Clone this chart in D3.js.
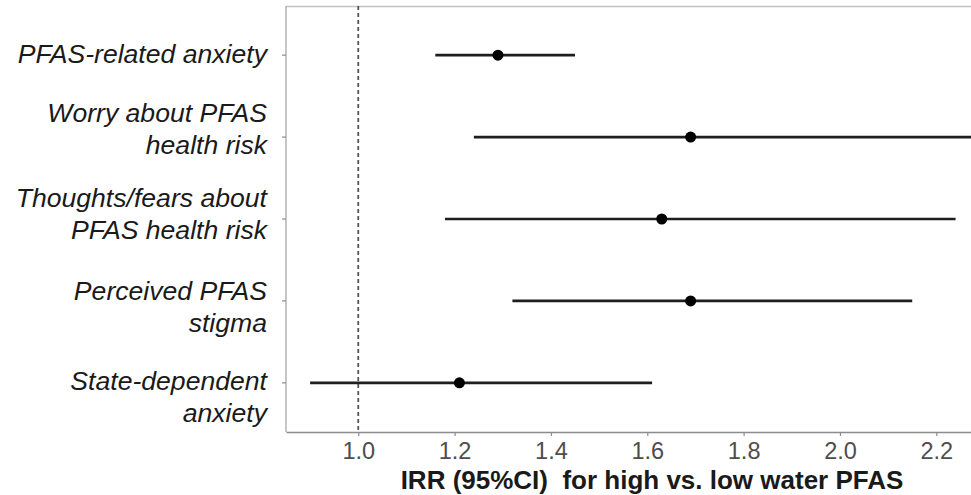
<!DOCTYPE html>
<html>
<head>
<meta charset="utf-8">
<script src="https://cdn.jsdelivr.net/npm/d3@7"></script>
<style>
  html, body { margin: 0; padding: 0; background: #fff; }
  svg { display: block; }
</style>
</head>
<body>
<script>
// outcomes, top to bottom
const outcomes = ["PFAS-related anxiety",
                  "Worry about PFAS health risk",
                  "Thoughts/fears about PFAS health risk",
                  "Perceived PFAS stigma",
                  "State-dependent anxiety"];
const labelLines = [["PFAS-related anxiety"],
                    ["Worry about PFAS", "health risk"],
                    ["Thoughts/fears about", "PFAS health risk"],
                    ["Perceived PFAS", "stigma"],
                    ["State-dependent", "anxiety"]];
const irr   = [1.29, 1.69, 1.63, 1.69, 1.21];
const lower = [1.16, 1.24, 1.18, 1.32, 0.90];
const upper = [1.45, 2.30, 2.24, 2.15, 1.61];
const xTicks = [1.0, 1.2, 1.4, 1.6, 1.8, 2.0, 2.2];
const refValue = 1.0;
const xTitle = "IRR (95%CI)\u00a0 for high vs. low water PFAS";

const width = 971, height = 495;
const margin = {top: 6, right: 0, bottom: 63, left: 286};

// first-line baseline offset of each label from its tick
const labelDy = [8, -15, -12, -1, 7],
      lineGap = 32;

const svg = d3.select("body").append("svg")
  .attr("width", width)
  .attr("height", height);

const x = d3.scaleLinear()
  .domain([0.85, 2.272])
  .range([margin.left, width - margin.right]);

const y = d3.scalePoint()
  .domain(outcomes)
  .range([margin.top, height - margin.bottom])
  .padding(0.6);

const bottom = height - margin.bottom;

// panel border (top + left)
svg.append("line")
  .attr("x1", margin.left).attr("x2", width)
  .attr("y1", margin.top + 0.5).attr("y2", margin.top + 0.5)
  .attr("stroke", "#c4c4c4").attr("stroke-width", 1.5);

svg.append("line")
  .attr("x1", margin.left).attr("x2", margin.left)
  .attr("y1", margin.top).attr("y2", bottom)
  .attr("stroke", "#a8a8a8").attr("stroke-width", 1.3);

// x axis
const xAxis = g => g
  .attr("transform", `translate(0,${bottom})`)
  .call(d3.axisBottom(x).tickValues(xTicks).tickFormat(d3.format(".1f"))
          .tickSizeInner(4).tickSizeOuter(0).tickPadding(6))
  .call(g => g.select(".domain").attr("stroke", "#8c8c8c").attr("stroke-width", 1.6))
  .call(g => g.selectAll(".tick line").attr("stroke", "#8c8c8c").attr("stroke-width", 1.2))
  .call(g => g.selectAll(".tick text")
              .attr("fill", "#4d4d4d")
              .style("font", "23.5px 'Liberation Sans', Arial, sans-serif"));

svg.append("g").call(xAxis);

// y ticks only (labels drawn by hand for line breaks)
svg.append("g")
  .selectAll("line")
  .data(outcomes)
  .join("line")
    .attr("x1", margin.left - 4).attr("x2", margin.left)
    .attr("y1", d => y(d)).attr("y2", d => y(d))
    .attr("stroke", "#8c8c8c").attr("stroke-width", 1.2);

svg.append("g")
    .style("font", "italic 26.6px 'Liberation Sans', Arial, sans-serif")
    .attr("fill", "#1a1a1a")
    .attr("text-anchor", "end")
  .selectAll("text")
  .data(outcomes)
  .join("text")
    .attr("x", 267)
    .attr("y", (d, i) => y(d) + labelDy[i])
    .each(function(d, i) {
      d3.select(this).selectAll("tspan")
        .data(labelLines[i])
        .join("tspan")
          .attr("x", 267)
          .attr("dy", (t, j) => j == 0 ? 0 : lineGap)
          .text(t => t);
    });

// reference line
svg.append("line")
  .attr("x1", x(refValue)).attr("x2", x(refValue))
  .attr("y1", margin.top).attr("y2", bottom)
  .attr("stroke", "#555").attr("stroke-width", 1.8)
  .attr("stroke-dasharray", "4,3");

// CIs and estimates
const rows = svg.append("g")
  .selectAll("g")
  .data(outcomes)
  .join("g")
    .attr("transform", d => `translate(0,${y(d)})`);

rows.append("line")
  .attr("x1", (d, i) => x(lower[i]))
  .attr("x2", (d, i) => Math.min(x(upper[i]), width))
  .attr("stroke", "#1e1e1e")
  .attr("stroke-width", 2.6);

rows.append("circle")
  .attr("cx", (d, i) => x(irr[i]))
  .attr("r", 5.5)
  .attr("fill", "#000");

// x title
svg.append("text")
  .attr("x", 652)
  .attr("y", 489)
  .attr("text-anchor", "middle")
  .attr("fill", "#1a1a1a")
  .style("font", "bold 26px 'Liberation Sans', Arial, sans-serif")
  .text(xTitle);
</script>
</body>
</html>
